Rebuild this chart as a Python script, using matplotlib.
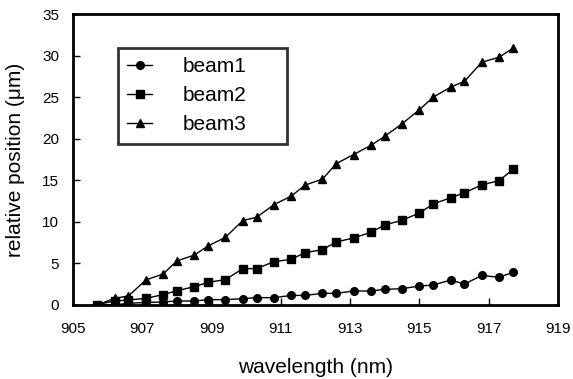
import numpy as np
import matplotlib.pyplot as plt

plt.rcParams['font.family'] = ['Liberation Sans', 'DejaVu Sans']

# wavelength (nm)
wl = [905.7, 906.2, 906.6, 907.1, 907.6, 908.0, 908.5, 908.9, 909.4,
      909.9, 910.3, 910.8, 911.3, 911.7, 912.2, 912.6, 913.1, 913.6,
      914.0, 914.5, 915.0, 915.4, 915.9, 916.3, 916.8, 917.3, 917.7]

beam1 = [0.05, 0.0, 0.2, 0.3, 0.36, 0.48, 0.48, 0.64, 0.64, 0.76, 0.88,
         0.88, 1.15, 1.15, 1.4, 1.4, 1.68, 1.68, 1.88, 1.96, 2.28, 2.4,
         3.0, 2.52, 3.55, 3.33, 3.93]
beam2 = [0.04, 0.48, 0.6, 0.8, 1.24, 1.72, 2.2, 2.73, 3.05, 4.37, 4.37,
         5.21, 5.49, 6.3, 6.65, 7.58, 8.06, 8.74, 9.63, 10.19, 11.07,
         12.15, 12.9, 13.5, 14.44, 14.96, 16.3]
beam3 = [0.0, 0.8, 1.08, 3.0, 3.73, 5.3, 6.0, 7.1, 8.14, 10.15, 10.55,
         12.07, 13.1, 14.42, 15.14, 17.0, 18.1, 19.2, 20.3, 21.8, 23.5,
         25.0, 26.2, 26.9, 29.2, 29.8, 30.9]

fig = plt.figure(figsize=(5.73, 3.79), dpi=100)
ax = fig.add_axes([0.1274, 0.1953, 0.8464, 0.7677])

ax.plot(wl, beam1, 'k-', marker='o', ms=5.5, lw=1, label='beam1')
ax.plot(wl, beam2, 'k-', marker='s', ms=5.5, lw=1, label='beam2')
ax.plot(wl, beam3, 'k-', marker='^', ms=6, lw=1, label='beam3')

ax.set_xlim(905, 919)
ax.set_ylim(0, 35)
ax.set_xticks(np.arange(905, 920, 2))
ax.set_yticks(np.arange(0, 36, 5))
ax.tick_params(direction='in', length=5, width=1, labelsize=11)
ax.tick_params(axis='x', pad=12)
ax.tick_params(axis='y', pad=10)
for s in ax.spines.values():
    s.set_linewidth(2)

ax.set_xlabel('wavelength (nm)', fontsize=15, labelpad=16)
ax.set_ylabel('relative position (\u03bcm)', fontsize=15, labelpad=12)

leg = ax.legend(loc='upper left', bbox_to_anchor=(0.0928, 0.56, 0.348, 0.323),
                mode='expand', fontsize=15, frameon=True, fancybox=False,
                edgecolor='black', handlelength=1.2, handletextpad=1.45,
                borderpad=0.45, labelspacing=0.48, borderaxespad=0)
leg.get_frame().set_linewidth(2)

fig.savefig('out.png', dpi=100)
